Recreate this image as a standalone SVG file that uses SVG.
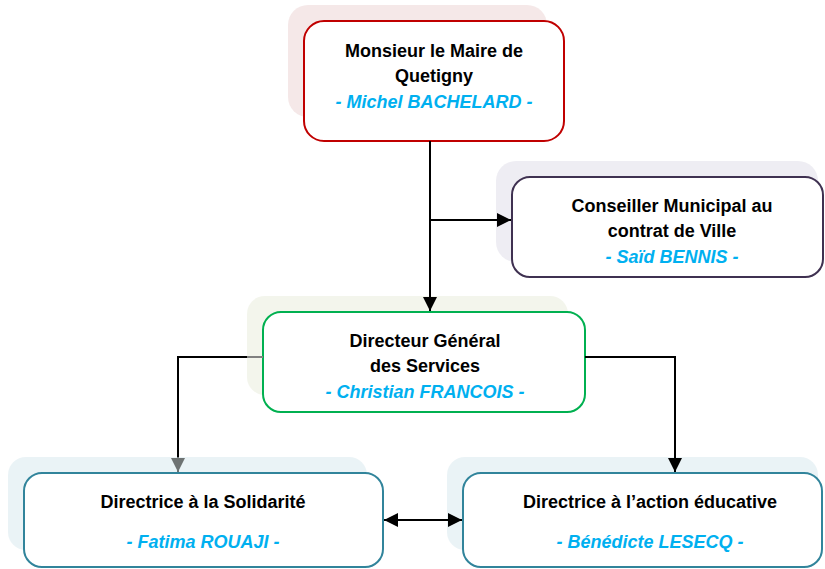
<svg xmlns="http://www.w3.org/2000/svg" width="825" height="569" viewBox="0 0 825 569">
<defs>
<style>
.sh{opacity:0.5}
.box{fill:#fff;stroke-width:2}
.t{font-family:"Liberation Sans",Arial,sans-serif;font-weight:bold;font-size:18px;fill:#000;text-anchor:middle}
.n{font-family:"Liberation Sans",Arial,sans-serif;font-weight:bold;font-style:italic;font-size:18px;fill:#00B0F0;text-anchor:middle}
.c{fill:none;stroke:#000;stroke-width:2}
</style>
<marker id="ah" viewBox="0 0 10 10" refX="10" refY="5" markerWidth="7" markerHeight="7" orient="auto-start-reverse" markerUnits="strokeWidth">
<path d="M0,0 L10,5 L0,10 z" fill="#000"/>
</marker>
<marker id="ahg" viewBox="0 0 10 10" refX="10" refY="5" markerWidth="7" markerHeight="7" orient="auto" markerUnits="strokeWidth">
<path d="M0,0 L10,5 L0,10 z" fill="#6E7373"/>
</marker>
</defs>
<rect width="825" height="569" fill="#fff"/>

<g id="maire">
<rect class="sh" x="288" y="5" width="259" height="112" rx="20" fill="#EBD1D1"/>
<rect class="box" x="304" y="21" width="260" height="120" rx="20" stroke="#C00000"/>
<text class="t" x="434" y="57">Monsieur le Maire de</text>
<text class="t" x="434" y="82">Quetigny</text>
<text class="n" x="434" y="108">- Michel BACHELARD -</text>
</g>

<g id="conseiller">
<rect class="sh" x="496" y="161" width="322" height="101" rx="20" fill="#DDDBE7"/>
<rect class="box" x="512" y="177" width="311" height="100" rx="18" stroke="#3F3151"/>
<text class="t" x="672" y="212">Conseiller Municipal au</text>
<text class="t" x="672" y="237">contrat de Ville</text>
<text class="n" x="672" y="263">- Saïd BENNIS -</text>
</g>

<g id="dgs">
<rect class="sh" x="247" y="296" width="321" height="99" rx="18" fill="#E7EBD9"/>
<rect class="box" x="263" y="312" width="322" height="100" rx="18" stroke="#00B050"/>
<text class="t" x="425" y="347">Directeur Général</text>
<text class="t" x="425" y="372">des Services</text>
<text class="n" x="425" y="398">- Christian FRANCOIS -</text>
</g>

<g id="solidarite">
<rect class="sh" x="8" y="457" width="359" height="93" rx="18" fill="#D5E7ED"/>
<rect class="box" x="24" y="473" width="359" height="94" rx="18" stroke="#31849B"/>
<text class="t" x="203" y="508">Directrice à la Solidarité</text>
<text class="n" x="203" y="548">- Fatima ROUAJI -</text>
</g>

<g id="educative">
<rect class="sh" x="447" y="457" width="371" height="93" rx="18" fill="#D5E7ED"/>
<rect class="box" x="463" y="473" width="359" height="94" rx="18" stroke="#31849B"/>
<text class="t" x="650" y="508">Directrice à l’action éducative</text>
<text class="n" x="650" y="548">- Bénédicte LESECQ -</text>
</g>

<g id="connectors">
<path class="c" d="M430,141 V311" marker-end="url(#ah)"/>
<path class="c" d="M430,220 H511" marker-end="url(#ah)"/>
<path d="M263,357 H247" stroke="#808080" stroke-width="2" fill="none"/>
<path class="c" d="M247,357 H178 V457" />
<path d="M178,457 V472" stroke="#6E7373" stroke-width="2" fill="none" marker-end="url(#ahg)"/>
<path class="c" d="M585,357 H675 V472" marker-end="url(#ah)"/>
<path class="c" d="M384,520 H462" marker-start="url(#ah)" marker-end="url(#ah)"/>
</g>
</svg>
